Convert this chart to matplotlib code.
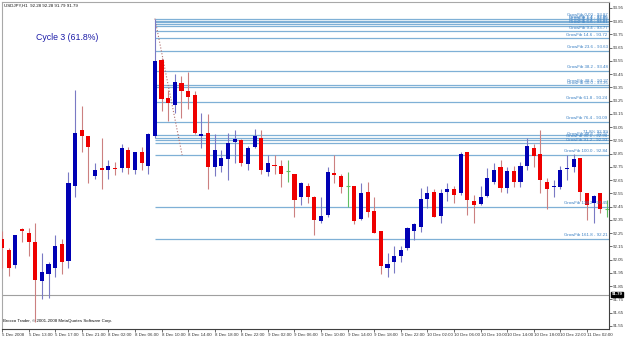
import numpy as np
import matplotlib.pyplot as plt
import matplotlib.transforms as mtransforms

# USDJPY H1 candles
opens = [92.21, 92.12, 92.01, 92.28, 92.25, 92.18, 91.89, 91.94, 91.99, 92.17,
         92.04, 92.61, 93.03, 92.98, 92.68, 92.74, 92.73, 92.745, 92.74, 92.88,
         92.73, 92.86, 92.76, 92.98, 93.56, 93.27, 93.22, 93.38, 93.32, 93.29,
         92.98, 93.01, 92.75, 92.76, 92.81, 92.94, 92.95, 92.77, 92.90, 92.97,
         92.71, 92.765, 92.76, 92.72, 92.70, 92.52, 92.61, 92.52, 92.34, 92.39,
         92.705, 92.68, 92.61, 92.61, 92.36, 92.56, 92.42, 92.27, 91.99, 92.03,
         92.08, 92.14, 92.27, 92.30, 92.51, 92.56, 92.38, 92.56, 92.58, 92.55,
         92.86, 92.49, 92.47, 92.53, 92.64, 92.75, 92.59, 92.72, 92.64, 92.76,
         92.89, 92.85, 92.64, 92.60, 92.60, 92.735, 92.75, 92.82, 92.55, 92.48,
         92.55, 92.43]
closes = [92.14, 91.99, 92.24, 92.27, 92.18, 91.90, 91.96, 92.02, 92.15, 92.03,
          92.63, 93.01, 92.98, 92.90, 92.73, 92.73, 92.76, 92.735, 92.89, 92.74,
          92.86, 92.78, 93.00, 93.55, 93.26, 93.23, 93.39, 93.32, 93.28, 93.01,
          93.00, 92.75, 92.88, 92.82, 92.93, 92.96, 92.78, 92.89, 92.98, 92.73,
          92.78, 92.755, 92.70, 92.72, 92.50, 92.63, 92.52, 92.35, 92.38, 92.71,
          92.69, 92.60, 92.61, 92.34, 92.55, 92.41, 92.25, 92.00, 92.02, 92.08,
          92.12, 92.29, 92.32, 92.51, 92.55, 92.37, 92.55, 92.58, 92.54, 92.85,
          92.50, 92.46, 92.52, 92.67, 92.73, 92.59, 92.72, 92.64, 92.76, 92.91,
          92.83, 92.65, 92.58, 92.61, 92.73, 92.74, 92.81, 92.56, 92.46, 92.53,
          92.43, 92.43]
highs = [92.27, 92.14, 92.24, 92.29, 92.29, 92.33, 92.10, 92.03, 92.24, 92.21,
         92.71, 93.33, 93.21, 92.98, 92.78, 92.97, 92.80, 92.79, 92.92, 92.90,
         92.86, 92.90, 93.01, 93.87, 93.57, 93.33, 93.45, 93.44, 93.47, 93.32,
         93.16, 93.15, 93.00, 92.88, 93.01, 93.03, 92.96, 92.91, 93.04, 93.03,
         92.84, 92.84, 92.80, 92.80, 92.70, 92.64, 92.63, 92.53, 92.52, 92.75,
         92.84, 92.70, 92.71, 92.61, 92.63, 92.64, 92.52, 92.27, 92.10, 92.15,
         92.15, 92.30, 92.33, 92.59, 92.61, 92.58, 92.58, 92.63, 92.61, 92.86,
         92.86, 92.54, 92.61, 92.74, 92.78, 92.80, 92.75, 92.76, 92.79, 92.97,
         92.92, 93.03, 92.67, 92.65, 92.76, 92.84, 92.85, 92.82, 92.55, 92.54,
         92.55, 92.50]
lows = [91.99, 91.93, 91.99, 92.18, 92.08, 91.58, 91.75, 91.76, 91.92, 91.94,
        91.99, 92.52, 92.86, 92.63, 92.66, 92.58, 92.66, 92.69, 92.71, 92.70,
        92.70, 92.73, 92.70, 92.97, 93.17, 93.10, 93.16, 93.12, 93.19, 93.00,
        92.89, 92.58, 92.68, 92.71, 92.65, 92.78, 92.76, 92.73, 92.89, 92.70,
        92.68, 92.70, 92.60, 92.64, 92.37, 92.46, 92.48, 92.24, 92.33, 92.37,
        92.63, 92.55, 92.45, 92.32, 92.35, 92.37, 92.25, 91.94, 91.92, 91.95,
        92.03, 92.12, 92.20, 92.26, 92.44, 92.37, 92.33, 92.49, 92.48, 92.54,
        92.39, 92.33, 92.46, 92.52, 92.62, 92.56, 92.55, 92.60, 92.60, 92.73,
        92.75, 92.55, 92.43, 92.52, 92.58, 92.65, 92.71, 92.49, 92.35, 92.33,
        92.40, 92.37]

time_labels = ['5 Dec 2008', '5 Dec 13:00', '5 Dec 17:00', '5 Dec 21:00', '8 Dec 02:00',
               '8 Dec 06:00', '8 Dec 10:00', '8 Dec 14:00', '8 Dec 18:00', '8 Dec 22:00',
               '9 Dec 02:00', '9 Dec 06:00', '9 Dec 10:00', '9 Dec 14:00', '9 Dec 18:00',
               '9 Dec 22:00', '10 Dec 02:00', '10 Dec 06:00', '10 Dec 10:00', '10 Dec 14:00',
               '10 Dec 18:00', '10 Dec 22:00', '11 Dec 02:00']

fib_prices = [93.87, 93.855, 93.845, 93.83, 93.815, 93.775, 93.72, 93.625, 93.475, 93.37,
              93.355, 93.24, 93.09, 92.99, 92.97, 92.955, 92.93, 92.84, 92.45, 92.21]
fib_labels = ['GrowFib 0.00 - 93.87', 'GrowFib 1.4 - 93.86', 'GrowFib 2.4 - 93.85',
              'GrowFib 3.4 - 93.83', 'GrowFib 5.6 - 93.81', 'GrowFib 9.4 - 93.77',
              'GrowFib 14.6 - 93.72', 'GrowFib 23.6 - 93.63', 'GrowFib 38.2 - 93.48',
              'GrowFib 48.6 - 93.37', 'GrowFib 50.0 - 93.36', 'GrowFib 61.8 - 93.24',
              'GrowFib 76.4 - 93.09', '71.8% 92.99', 'GrowFib 88.6 - 92.97',
              'GrowFib 90.1 - 92.96', 'GrowFib 91.2 - 92.93', 'GrowFib 100.0 - 92.84',
              'GrowFib 138.2 - 92.45', 'GrowFib 161.8 - 92.21']
fib_start = 23
price_line = 91.78
price_tag = '91.79'

fs = 3.2
plt.rcParams['font.family'] = ['Liberation Sans', 'DejaVu Sans']

fig = plt.figure(figsize=(6.25, 3.41), dpi=100)
ax = fig.add_axes([2/625, 1 - 329/341, 607/625, 327/341])

x = np.arange(len(opens))
o = np.array(opens); c = np.array(closes); h = np.array(highs); l = np.array(lows)
up = c > o
dn = c < o
doji = c == o

# fib lines
for p, lab in zip(fib_prices, fib_labels):
    ax.hlines(p, fib_start, 92, color='#7fb0d6', lw=0.9, zorder=1)
    ax.text(91.1, p + 0.012, lab, ha='right', va='bottom', fontsize=fs, color='#3a80c4', zorder=5)

ax.axhline(price_line, color='#a0a0a0', lw=0.8, zorder=1)
ax.plot([fib_start, 27.1], [fib_prices[0], fib_prices[17]], ls=':', color='#b07070', lw=0.8, zorder=2)

# wicks
ax.vlines(x[up], l[up], h[up], color='#7a7ac4', lw=0.8, zorder=3)
ax.vlines(x[dn], l[dn], h[dn], color='#cc8080', lw=0.8, zorder=3)
ax.vlines(x[doji], l[doji], h[doji], color='#60c060', lw=0.8, zorder=3)
ax.hlines(o[doji], x[doji] - 0.3, x[doji] + 0.3, color='#60c060', lw=0.8, zorder=3)

# bodies
ax.bar(x[up], c[up] - o[up], bottom=o[up], width=0.62, color='#0000b4', lw=0, zorder=4)
ax.bar(x[dn], o[dn] - c[dn], bottom=c[dn], width=0.62, color='#ee0000', lw=0, zorder=4)

ax.set_xlim(0.045, 91.32)
ax.set_ylim(91.527, 93.995)

ax.yaxis.tick_right()
yt = np.round(91.55 + 0.1 * np.arange(25), 2)
ax.set_yticks(yt)
ax.set_yticklabels(['%.2f' % v for v in yt])
ax.tick_params(axis='y', length=2, width=0.5, pad=1, labelsize=fs, colors='#333333')

ax.set_xticks(np.arange(0, 89, 4))
ax.set_xticklabels(time_labels, ha='left')
ax.tick_params(axis='x', length=2, width=0.5, pad=1, labelsize=fs, colors='#333333')

for side in ['left', 'top']:
    ax.spines[side].set_color('#a8a8a8')
for side in ['right', 'bottom']:
    ax.spines[side].set_color('#404040')
for s in ax.spines.values():
    s.set_linewidth(0.8)

trans = mtransforms.blended_transform_factory(ax.transAxes, ax.transData)
ax.text(1.004, price_tag and float(price_tag), price_tag, transform=trans, fontsize=fs,
        color='white', fontweight='bold', va='center', ha='left',
        bbox=dict(facecolor='black', edgecolor='black', pad=0.4), zorder=6, clip_on=False)

fig.text(4/625, 1 - 6/341, 'USDJPY,H1  92.28 92.28 91.79 91.79', fontsize=fs, va='center', color='#111111')
fig.text(36/625, 1 - 38/341, 'Cycle 3 (61.8%)', fontsize=6.3, va='center', color='#1c1ca8')
fig.text(3/625, 1 - 321/341, 'Brocco Trader, \u00a9 2001-2008 MetaQuotes Software Corp.', fontsize=fs,
         va='center', color='#111111')

fig.savefig('out.png', dpi=100)
